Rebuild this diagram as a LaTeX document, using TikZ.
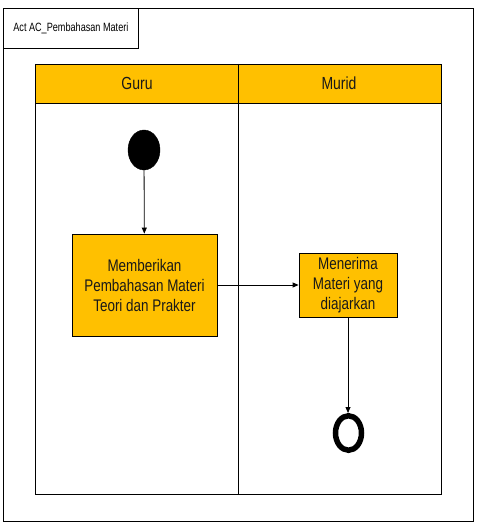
\documentclass[tikz,border=0pt]{standalone}
\usepackage{fontspec}
\setmainfont{Liberation Sans}
\newfontfamily\narrowfont[FakeStretch=0.8]{Liberation Sans}
\newfontfamily\labelfont[FakeStretch=0.76]{Liberation Sans}
\usetikzlibrary{arrows.meta,shapes.geometric}
\definecolor{laneorange}{HTML}{FFC000}
\begin{document}
\begin{tikzpicture}[x=1pt,y=-1pt,
  frame/.style={draw=black,line width=0.8pt},
  actbox/.style={draw=black,line width=0.8pt,fill=laneorange,inner sep=0pt,
    font=\narrowfont\fontsize{16.8}{20}\selectfont,align=center,text=black!90},
  flow/.style={draw=black,line width=0.8pt,-{Triangle[length=6pt,width=5pt]}},
  headtext/.style={font=\narrowfont\fontsize{17.5}{20}\selectfont,text=black!90}]
\useasboundingbox (0,0) rectangle (480,532);
% outer frame and label
\draw[frame] (3,8) rectangle (473,521);
\node[frame,minimum width=135pt,minimum height=40pt,anchor=north west,inner sep=0pt,
  font=\labelfont\fontsize{12}{14}\selectfont] (lbl) at (3,8) {Act AC\_Pembahasan Materi};
% swimlanes
\fill[laneorange] (35,64) rectangle (441,103);
\draw[frame] (35,64) rectangle (441,494);
\draw[frame] (35,103) -- (441,103);
\draw[frame] (238,64) -- (238,494);
\node[headtext] (guru) at (137,83) {Guru};
\node[headtext] (murid) at (339,83) {Murid};
% start
\node[draw=black,fill=black,ellipse,minimum width=32pt,minimum height=40pt,inner sep=0pt] (start) at (144,150) {};
% activities
\node[actbox,minimum width=145pt,minimum height=102pt] (a1) at (144.5,285) {Memberikan\\Pembahasan Materi\\Teori dan Prakter};
\node[actbox,minimum width=98pt,minimum height=64pt] (a2) at (348,285) {Menerima\\Materi yang\\diajarkan};
% end
\node[draw=black,line width=5.5pt,ellipse,minimum width=26pt,minimum height=34.5pt,inner sep=0pt,outer sep=2.75pt] (end) at (348.5,433) {};
% flows
\draw[flow] (start) -- (a1);
\draw[flow] (a1) -- (a2);
\draw[flow] (a2.south) -- (a2.south |- end.north);
\end{tikzpicture}
\end{document}
